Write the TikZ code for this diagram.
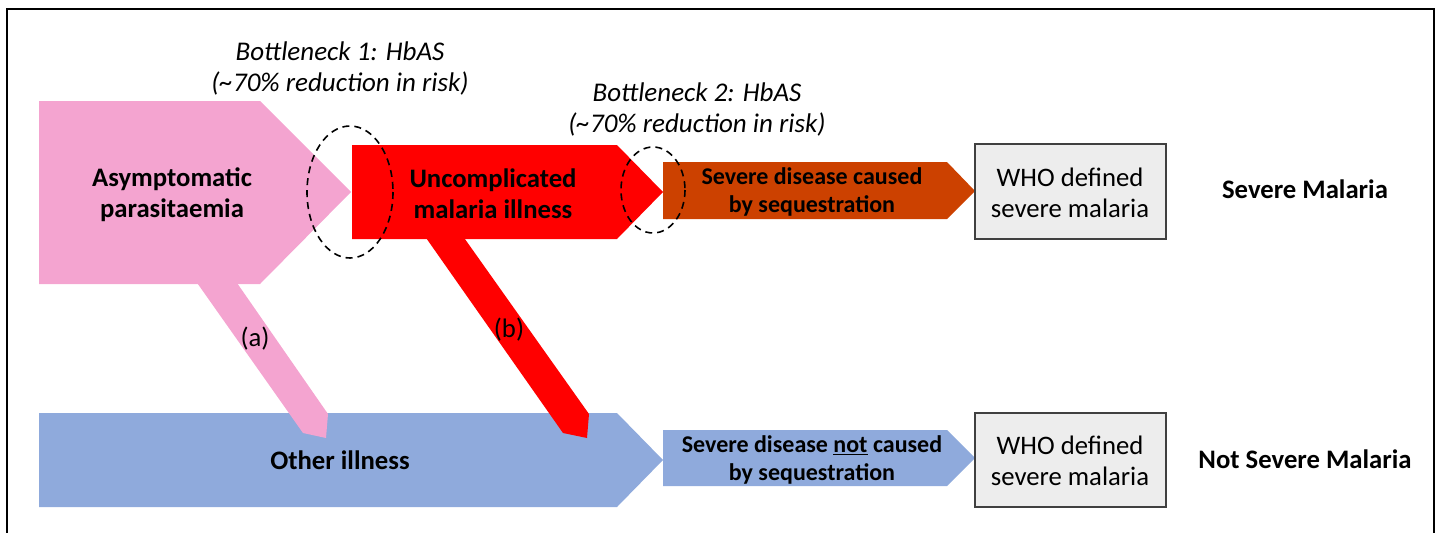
\documentclass[tikz,border=0pt]{standalone}
\usepackage{fontspec}
\setmainfont{Carlito}
\definecolor{pinkc}{RGB}{244,164,208}
\definecolor{redc}{RGB}{255,0,0}
\definecolor{brownc}{RGB}{204,65,0}
\definecolor{bluec}{RGB}{143,170,220}
\definecolor{whogray}{RGB}{237,237,237}
\definecolor{boxedge}{RGB}{64,64,64}
\begin{document}
\begin{tikzpicture}[x=1pt,y=-1pt]
\tikzset{
  lbl/.style={inner sep=0pt, align=center, font=\fontsize{26.7}{31}\selectfont},
  lblb/.style={inner sep=0pt, align=center, font=\fontsize{26.7}{31}\selectfont\bfseries},
  lbls/.style={inner sep=0pt, align=center, font=\fontsize{24}{28}\selectfont\bfseries},
  lbli/.style={inner sep=0pt, align=center, font=\fontsize{27}{31}\selectfont\itshape},
  bneck/.style={draw=black, dash pattern=on 7pt off 5pt, line width=1.6pt},
  whobox/.style={fill=whogray, draw=boxedge, line width=1.3pt},
  frame/.style={draw=black, line width=1.3pt},
}
\useasboundingbox (0,0) rectangle (1444,533);
% outer frame
\draw[frame] (7,533) -- (7,9) -- (1434,9) -- (1434,533);

% bottom row
\fill[bluec] (39,413) -- (617,413) -- (663,460) -- (617,507) -- (39,507) -- cycle;
\fill[bluec] (663,430) -- (947,430) -- (975,458) -- (947,486) -- (663,486) -- cycle;

% diagonal branches
\fill[pinkc] (188,270) -- (228,270) -- (328,414) -- (326,438) -- (303,433) -- cycle;
\fill[redc] (417,225) -- (455,225) -- (589,414) -- (587,438) -- (563,433) -- cycle;

% top row
\fill[pinkc] (39,101) -- (260,101) -- (351,192) -- (260,284) -- (39,284) -- cycle;
\fill[redc] (352,145) -- (617,145) -- (663,192) -- (617,239) -- (352,239) -- cycle;
\fill[brownc] (663,162) -- (947,162) -- (975,191) -- (947,219) -- (663,219) -- cycle;

% WHO boxes
\draw[whobox] (975,144) rectangle (1166,239);
\draw[whobox] (975,413) rectangle (1166,507);

% bottlenecks
\draw[bneck] (350,192) ellipse [x radius=43, y radius=66];
\draw[bneck] (653,190) ellipse [x radius=32, y radius=43];

% labels
\node[lbli] (bn1) at (340,68) {Bottleneck 1: HbAS\\(\textasciitilde70\% reduction in risk)};
\node[lbli] (bn2) at (697,109) {Bottleneck 2: HbAS\\(\textasciitilde70\% reduction in risk)};
\node[lblb] (asym) at (172,195) {Asymptomatic\\parasitaemia};
\node[lblb] (uncomp) at (493,194) {Uncomplicated\\malaria illness};
\node[lbls] (sevseq) at (812,192) {Severe disease caused\\by sequestration};
\node[lbl] (who1) at (1070,193) {WHO defined\\severe malaria};
\node[lblb, anchor=base] (sm) at (1305,198) {Severe Malaria};
\node[lbl] (la) at (255,339) {(a)};
\node[lbl] (lb) at (509,330) {(b)};
\node[lblb, anchor=base] (other) at (340,469) {Other illness};
\node[lbls] (sevnot) at (812,460) {Severe disease \underline{not} caused\\by sequestration};
\node[lbl] (who2) at (1070,461) {WHO defined\\severe malaria};
\node[lblb, anchor=base] (nsm) at (1305,468) {Not Severe Malaria};
\end{tikzpicture}
\end{document}
